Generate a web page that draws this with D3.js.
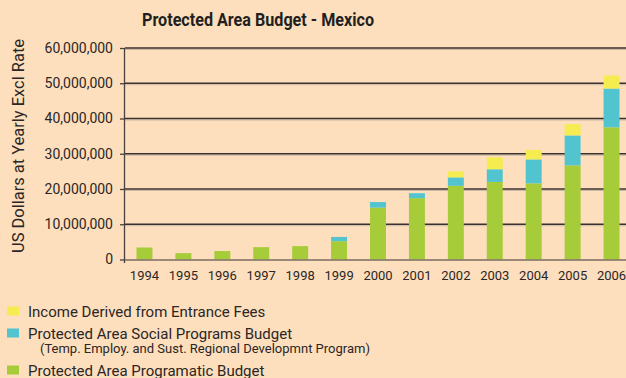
<!DOCTYPE html>
<html>
<head>
<meta charset="utf-8">
<script src="https://cdnjs.cloudflare.com/ajax/libs/d3/7.8.5/d3.min.js"></script>
<style>
  html, body { margin: 0; padding: 0; background: #fddfbd; }
  svg { display: block; font-family: Roboto, "Liberation Sans", sans-serif; }
</style>
</head>
<body>
<div id="chart"></div>
<script>
const width = 626;
const height = 378;
const margin = { left: 125, right: -5, top: 48, bottom: 118 };

// values, US dollars
const years = ['1994','1995','1996','1997','1998','1999','2000','2001','2002','2003','2004','2005','2006'];
const programatic = [3400000, 1800000, 2400000, 3500000, 3800000, 5200000, 14700000, 17400000, 20900000, 22000000, 21600000, 26700000, 37500000];
const social = [0, 0, 0, 0, 0, 1200000, 1600000, 1400000, 2400000, 3600000, 6800000, 8500000, 11000000];
const fees = [0, 0, 0, 0, 0, 0, 0, 0, 1700000, 3400000, 2700000, 3200000, 3700000];
const yTicks = [0, 10000000, 20000000, 30000000, 40000000, 50000000, 60000000];

const keys = ['programatic', 'social', 'fees'];
const colors = { programatic: '#a6cc3a', social: '#52c4d0', fees: '#f5ec52' };

const rows = years.map((y, i) => ({ year: y, programatic: programatic[i], social: social[i], fees: fees[i] }));
const stacked = d3.stack().keys(keys)(rows);

const svg = d3.select('#chart')
  .append('svg')
    .attr('width', width)
    .attr('height', height);

const plotW = width - margin.left - margin.right;
const plotH = height - margin.top - margin.bottom;

const g = svg.append('g')
  .attr('transform', 'translate(' + margin.left + ',' + margin.top + ')');

const x = d3.scaleBand().domain(years).range([0, plotW]).paddingInner(0.59).paddingOuter(0.295);
const y = d3.scaleLinear().domain([0, 60000000]).range([plotH - 0.5, 0]);

// gridlines with a faint shadow
g.append('g').selectAll('line.shadow')
  .data(yTicks.filter(d => d > 0))
  .join('line')
    .attr('x1', 0).attr('x2', plotW)
    .attr('y1', d => y(d) + 1.5).attr('y2', d => y(d) + 1.5)
    .attr('stroke', '#c9b8a4').attr('stroke-width', 1);
g.append('g').selectAll('line.grid')
  .data(yTicks.filter(d => d > 0))
  .join('line')
    .attr('x1', 0).attr('x2', plotW)
    .attr('y1', d => y(d)).attr('y2', d => y(d))
    .attr('stroke', '#3b3030').attr('stroke-width', 1.3);

// bars
g.append('g').selectAll('g')
  .data(stacked)
  .join('g')
    .attr('fill', d => colors[d.key])
  .selectAll('rect')
  .data(d => d)
  .join('rect')
    .attr('x', d => x(d.data.year))
    .attr('y', d => y(d[1]))
    .attr('width', x.bandwidth())
    .attr('height', d => Math.max(0, y(d[0]) - y(d[1])));

// baseline
g.append('line')
  .attr('x1', 0).attr('x2', plotW)
  .attr('y1', y(0) + 0.5).attr('y2', y(0) + 0.5)
  .attr('stroke', '#7a6d62').attr('stroke-width', 1.3);

// y axis
const yAxis = g.append('g')
  .call(d3.axisLeft(y).tickValues(yTicks).tickSize(5).tickPadding(7).tickFormat(d3.format(',')));
yAxis.select('.domain').attr('stroke', '#4a4040').attr('stroke-width', 1.3)
  .attr('d', `M-0.5,0V${plotH + 3}`);
yAxis.selectAll('.tick line').attr('stroke', '#4a4040').attr('stroke-width', 1.3);
yAxis.selectAll('.tick text').attr('fill', '#2b2626').style('font-size', '14px')
  .style('font-family', 'Roboto, sans-serif');

// x axis labels
const xAxis = g.append('g')
  .attr('transform', `translate(0,${plotH})`)
  .call(d3.axisBottom(x).tickSize(0).tickPadding(11));
xAxis.select('.domain').remove();
xAxis.selectAll('.tick text').attr('fill', '#2b2626').style('font-size', '13px')
  .style('font-family', 'Roboto, sans-serif');

// title
svg.append('text')
  .attr('x', 258).attr('y', 26)
  .attr('text-anchor', 'middle')
  .attr('fill', '#231f20')
  .style('font-family', '"Liberation Sans Narrow", Roboto, sans-serif')
  .style('font-weight', 'bold')
  .style('font-size', '19px')
  .attr('textLength', 232)
  .attr('lengthAdjust', 'spacingAndGlyphs')
  .text('Protected Area Budget - Mexico');

// y title
svg.append('text')
  .attr('transform', 'translate(24,146) rotate(-90)')
  .attr('text-anchor', 'middle')
  .attr('fill', '#2b2626')
  .style('font-size', '16px')
  .attr('textLength', 214)
  .attr('lengthAdjust', 'spacingAndGlyphs')
  .text('US Dollars at Yearly Excl Rate');

// legend
const legend = [
  { key: 'fees', label: 'Income Derived from Entrance Fees', y: 311 },
  { key: 'social', label: 'Protected Area Social Programs Budget', y: 333 },
  { key: 'programatic', label: 'Protected Area Programatic Budget', y: 370 }
];
const lg = svg.append('g').selectAll('g').data(legend).join('g');
lg.append('rect')
  .attr('x', 7).attr('y', d => d.y - 4.5)
  .attr('width', 12).attr('height', 9)
  .attr('fill', d => colors[d.key]);
lg.append('text')
  .attr('x', 28).attr('y', d => d.y + 5.5)
  .attr('fill', '#2b2626')
  .style('font-size', '15px')
  .text(d => d.label);
svg.append('text')
  .attr('x', 40).attr('y', 353)
  .attr('fill', '#2b2626')
  .style('font-size', '13px')
  .text('(Temp. Employ. and Sust. Regional Developmnt Program)');
</script>
</body>
</html>
